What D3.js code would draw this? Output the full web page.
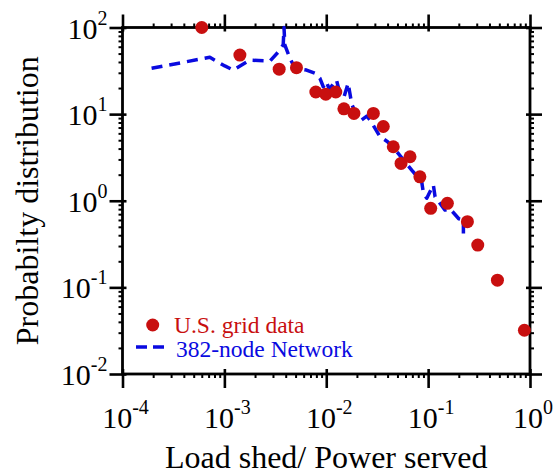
<!DOCTYPE html>
<html>
<head>
<meta charset="utf-8">
<script src="https://cdn.jsdelivr.net/npm/d3@7"></script>
<style>
  html, body { margin: 0; padding: 0; background: #fff; }
  svg { display: block; }
  text { font-family: "Liberation Serif", "Times New Roman", serif; }
</style>
</head>
<body>
<svg id="chart" width="559" height="475"></svg>
<script>
// ---- data ----
const gridX = [6.0e-4, 1.42e-3, 3.45e-3, 5.1e-3, 7.9e-3, 9.9e-3, 1.24e-2, 1.49e-2, 1.87e-2, 2.9e-2,
               3.63e-2, 4.55e-2, 5.42e-2, 6.64e-2, 8.3e-2, 0.106, 0.1545, 0.243, 0.307, 0.479, 0.881];
const gridY = [100, 48, 33, 34.4, 18, 17, 18, 11.5, 10.2, 10.2,
               7.2, 4.2, 2.7, 3.22, 1.89, 0.817, 0.933, 0.573, 0.308, 0.121, 0.032];

const netX = [1.93e-4, 7.2e-4, 1.01e-3, 1.22e-3, 1.78e-3, 2.8e-3, 3.37e-3, 3.78e-3, 3.85e-3, 3.92e-3,
              4.4e-3, 4.93e-3, 6.4e-3, 7.74e-3, 8.67e-3, 9.35e-3, 1.0e-2, 1.07e-2, 1.26e-2, 1.35e-2,
              1.5e-2, 1.64e-2, 1.78e-2, 1.9e-2, 2.2e-2, 2.5e-2, 2.7e-2, 3.37e-2, 4.0e-2, 4.92e-2,
              6.9e-2, 8.65e-2, 9.0e-2, 9.7e-2, 0.1125, 0.117, 0.1466, 0.165, 0.2, 0.222, 0.222];
const netY = [33.8, 45.3, 36, 32.3, 42, 41, 52, 63, 100, 63,
              44, 34, 32.3, 29.6, 25.9, 20.7, 23.7, 19.5, 24.8, 18,
              16, 22.7, 13, 11, 8.5, 9.5, 8.5, 5.5, 4.8, 3.7,
              2.26, 1.66, 1.21, 1.07, 1.52, 1.11, 0.78, 0.8, 0.62, 0.6, 0.42];

const xMajor = [1e-4, 1e-3, 1e-2, 1e-1, 1];
const xExp = ["-4", "-3", "-2", "-1", "0"];
const yMajor = [1e-2, 1e-1, 1, 10, 100];
const yExp = ["-2", "-1", "0", "1", "2"];

const seriesNames = ["U.S. grid data", "382-node Network"];
const xTitle = "Load shed/ Power served";
const yTitle = "Probabilty distribution";

// ---- layout ----
const L = 122.5, R = 530, T = 27.5, B = 374;
const RED = "#c80f0f", BLUE = "#0a0ae0";

const svg = d3.select("#chart");
const x = d3.scaleLog().domain([1e-4, 1]).range([L, R]);
const y = d3.scaleLog().domain([1e-2, 1e2]).range([B, T]);

function minors(majors) {
  const out = [];
  for (let i = 0; i < majors.length - 1; i++)
    for (let k = 2; k <= 9; k++) out.push(majors[i] * k);
  return out;
}
const xMinor = minors(xMajor), yMinor = minors(yMajor);

function styleAxis(g) {
  g.select(".domain").remove();
  g.selectAll("line").attr("stroke", "#000").attr("stroke-width", 2.6);
  g.selectAll("text").remove();
}

// bottom
const gB = svg.append("g").attr("transform", `translate(0,${B})`);
gB.call(d3.axisBottom(x).tickValues(xMajor).tickSize(14).tickFormat(""));
styleAxis(gB); gB.selectAll(".tick line").attr("y1", -5);
const gBm = svg.append("g").attr("transform", `translate(0,${B})`);
gBm.call(d3.axisBottom(x).tickValues(xMinor).tickSize(4).tickFormat("")); styleAxis(gBm);
gBm.selectAll("line").attr("stroke-width", 2);
// top
const gT = svg.append("g").attr("transform", `translate(0,${T})`);
gT.call(d3.axisTop(x).tickValues(xMajor).tickSize(13).tickFormat(""));
styleAxis(gT); gT.selectAll(".tick line").attr("y1", 4);
const gTm = svg.append("g").attr("transform", `translate(0,${T})`);
gTm.call(d3.axisTop(x).tickValues(xMinor).tickSize(4).tickFormat("")); styleAxis(gTm);
gTm.selectAll("line").attr("stroke-width", 2);
// left
const gL = svg.append("g").attr("transform", `translate(${L},0)`);
gL.call(d3.axisLeft(y).tickValues(yMajor).tickSize(13).tickFormat(""));
styleAxis(gL); gL.selectAll(".tick line").attr("x1", 4);
const gLm = svg.append("g").attr("transform", `translate(${L},0)`);
gLm.call(d3.axisLeft(y).tickValues(yMinor).tickSize(4).tickFormat("")); styleAxis(gLm);
gLm.selectAll("line").attr("stroke-width", 2);
// right
const gR = svg.append("g").attr("transform", `translate(${R},0)`);
gR.call(d3.axisRight(y).tickValues(yMajor).tickSize(12).tickFormat(""));
styleAxis(gR); gR.selectAll(".tick line").attr("x1", -4);
const gRm = svg.append("g").attr("transform", `translate(${R},0)`);
gRm.call(d3.axisRight(y).tickValues(yMinor).tickSize(4).tickFormat("")); styleAxis(gRm);
gRm.selectAll("line").attr("stroke-width", 2);

// frame
svg.append("rect").attr("x", L).attr("y", T).attr("width", R - L).attr("height", B - T)
  .attr("fill", "none").attr("stroke", "#000").attr("stroke-width", 2.8);

// tick labels
const xl = svg.append("g");
xMajor.forEach((v, i) => {
  const t = xl.append("text").attr("x", x(v) + 3).attr("y", B + 54)
    .attr("text-anchor", "middle").attr("font-size", 30).attr("fill", "#000");
  t.append("tspan").text("10");
  t.append("tspan").attr("dy", -14).attr("font-size", 20).text(xExp[i]);
});
const yl = svg.append("g");
yMajor.forEach((v, i) => {
  const t = yl.append("text").attr("x", L - 15).attr("y", y(v) + 11)
    .attr("text-anchor", "end").attr("font-size", 30).attr("fill", "#000");
  t.append("tspan").text("10");
  t.append("tspan").attr("dy", -14).attr("font-size", 20).text(yExp[i]);
});

// axis titles
svg.append("text").attr("x", (L + R) / 2).attr("y", 468).attr("text-anchor", "middle")
  .attr("font-size", 32).attr("fill", "#000").text(xTitle);
svg.append("text").attr("transform", `translate(38,${(T + B) / 2}) rotate(-90)`)
  .attr("text-anchor", "middle").attr("font-size", 32).attr("fill", "#000").text(yTitle);

// network line
const netData = netX.map((d, i) => [d, netY[i]]);
svg.append("path").datum(netData)
  .attr("d", d3.line().x(d => x(d[0])).y(d => y(d[1])))
  .attr("fill", "none").attr("stroke", BLUE).attr("stroke-width", 3.5)
  .attr("stroke-dasharray", "11,7").attr("stroke-linejoin", "round");

// grid points
const gridData = gridX.map((d, i) => [d, gridY[i]]);
svg.append("g").selectAll("circle").data(gridData).join("circle")
  .attr("cx", d => x(d[0])).attr("cy", d => y(d[1])).attr("r", 6.5).attr("fill", RED);

// legend
const lg = svg.append("g");
lg.append("circle").attr("cx", 152.7).attr("cy", 325).attr("r", 6.5).attr("fill", RED);
lg.append("text").attr("x", 174).attr("y", 333).attr("font-size", 23.5).attr("fill", RED).text(seriesNames[0]);
lg.append("line").attr("x1", 136).attr("x2", 164).attr("y1", 347).attr("y2", 347)
  .attr("stroke", BLUE).attr("stroke-width", 3.5).attr("stroke-dasharray", "11,6");
lg.append("text").attr("x", 176).attr("y", 357).attr("font-size", 23.5).attr("fill", BLUE).text(seriesNames[1]);
</script>
</body>
</html>
